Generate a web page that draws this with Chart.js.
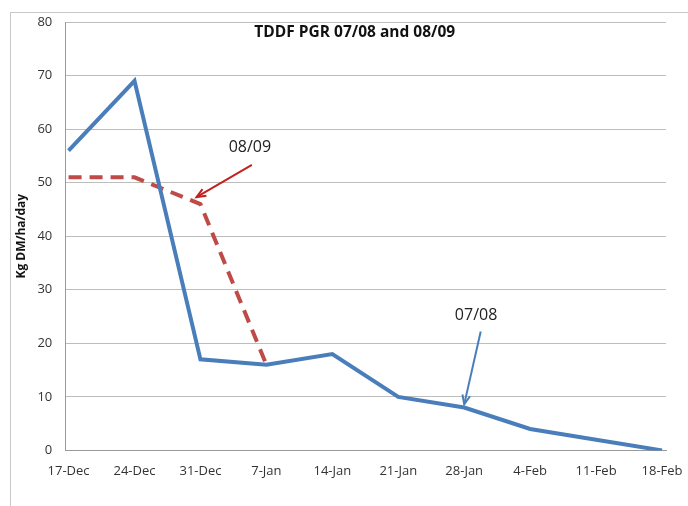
<!DOCTYPE html>
<html lang="en">
<head>
    <meta charset="UTF-8">
    <title>TDDF PGR 07/08 and 08/09</title>
    <script src="https://cdn.jsdelivr.net/npm/chart.js@4/dist/chart.umd.min.js"></script>
    <style>
        * { margin: 0; padding: 0; box-sizing: border-box; }
        body { background: #fff; width: 688px; height: 506px; overflow: hidden; position: relative; }
        .frame {
            position: absolute; left: 10px; top: 12px; width: 700px; height: 520px;
            border-top: 1px solid #c8c8c8; border-left: 1px solid #c8c8c8;
        }
        .wrap { position: absolute; left: 0; top: 0; width: 688px; height: 506px; }
    </style>
</head>
<body>
    <div class="frame"></div>
    <div class="wrap"><canvas id="pgrChart"></canvas></div>

    <script>
        // data
        const weeks = ['17-Dec', '24-Dec', '31-Dec', '7-Jan', '14-Jan', '21-Jan', '28-Jan', '4-Feb', '11-Feb', '18-Feb'];
        const pgr0708 = [56, 69, 17, 16, 18, 10, 8, 4, 2, 0];
        const pgr0809 = [51, 51, 46, 16];
        const yTicks = [0, 10, 20, 30, 40, 50, 60, 70, 80];

        const FONT = "'Open Sans', 'Liberation Sans', sans-serif";

        // week index -> {x, y} for the linear x axis
        const toPoints = arr => arr.map((v, i) => ({ x: i, y: v }));

        // title + arrow labels drawn in data space
        const notes = [
            { text: '08/09', color: '#c0221f', tx: 2.75, ty: 56.5, from: [2.78, 53.3], to: [1.94, 47.3] },
            { text: '07/08', color: '#4a7ebb', tx: 6.18, ty: 25.2, from: [6.25, 22.2], to: [6.0, 8.6] }
        ];

        const annotate = {
            id: 'annotate',
            afterDraw(chart) {
                const ctx = chart.ctx, x = chart.scales.x, y = chart.scales.y;
                ctx.save();
                ctx.fillStyle = '#111';
                ctx.font = "bold 15.5px " + FONT;
                ctx.textAlign = 'center';
                ctx.textBaseline = 'middle';
                ctx.fillText('TDDF PGR 07/08 and 08/09', x.getPixelForValue(4.34), y.getPixelForValue(78));

                notes.forEach(n => {
                    ctx.font = "16px " + FONT;
                    ctx.fillStyle = '#222';
                    ctx.fillText(n.text, x.getPixelForValue(n.tx), y.getPixelForValue(n.ty));
                    const x1 = x.getPixelForValue(n.from[0]), y1 = y.getPixelForValue(n.from[1]);
                    const x2 = x.getPixelForValue(n.to[0]), y2 = y.getPixelForValue(n.to[1]);
                    ctx.strokeStyle = n.color;
                    ctx.fillStyle = n.color;
                    ctx.lineWidth = 2;
                    ctx.beginPath();
                    ctx.moveTo(x1, y1);
                    ctx.lineTo(x2, y2);
                    ctx.stroke();
                    const a = Math.atan2(y2 - y1, x2 - x1), L = 10;
                    ctx.beginPath();
                    ctx.moveTo(x2 - L * Math.cos(a - 0.4), y2 - L * Math.sin(a - 0.4));
                    ctx.lineTo(x2, y2);
                    ctx.lineTo(x2 - L * Math.cos(a + 0.4), y2 - L * Math.sin(a + 0.4));
                    ctx.stroke();
                });
                ctx.restore();
            }
        };

        new Chart(document.getElementById('pgrChart'), {
            type: 'line',
            data: {
                datasets: [
                    {
                        label: '07/08',
                        data: toPoints(pgr0708),
                        borderColor: '#4a7ebb',
                        borderWidth: 4,
                        pointRadius: 0,
                        tension: 0
                    },
                    {
                        label: '08/09',
                        data: toPoints(pgr0809),
                        borderColor: '#be4b48',
                        borderWidth: 4,
                        borderDash: [13, 8],
                        pointRadius: 0,
                        tension: 0
                    }
                ]
            },
            options: {
                responsive: true,
                maintainAspectRatio: false,
                animation: false,
                layout: { padding: { top: 22, right: 22, bottom: 14, left: 10 } },
                plugins: {
                    legend: { display: false },
                    tooltip: { enabled: false }
                },
                scales: {
                    x: {
                        type: 'linear',
                        min: -0.05,
                        max: 9.06,
                        afterBuildTicks(axis) { axis.ticks = weeks.map((w, i) => ({ value: i })); },
                        // let the last label hang past the plot edge like the original
                        afterFit(axis) { axis.paddingRight = 0; },
                        grid: { display: false, drawTicks: false },
                        border: { color: '#9a9a9a', width: 1 },
                        ticks: {
                            color: '#333',
                            font: { family: FONT, size: 13 },
                            padding: 13,
                            maxRotation: 0,
                            autoSkip: false,
                            callback: v => weeks[v]
                        }
                    },
                    y: {
                        min: 0,
                        max: 80,
                        afterBuildTicks(axis) { axis.ticks = yTicks.map(v => ({ value: v })); },
                        grid: { color: '#bdbdbd', drawTicks: false, lineWidth: 1 },
                        border: { color: '#9a9a9a', width: 1 },
                        ticks: {
                            color: '#333',
                            font: { family: FONT, size: 13 },
                            padding: 13
                        },
                        title: {
                            display: true,
                            text: 'Kg DM/ha/day',
                            color: '#111',
                            font: { family: FONT, size: 12, weight: 'bold' },
                            padding: { bottom: -4 }
                        }
                    }
                }
            },
            plugins: [annotate]
        });
    </script>
</body>
</html>
